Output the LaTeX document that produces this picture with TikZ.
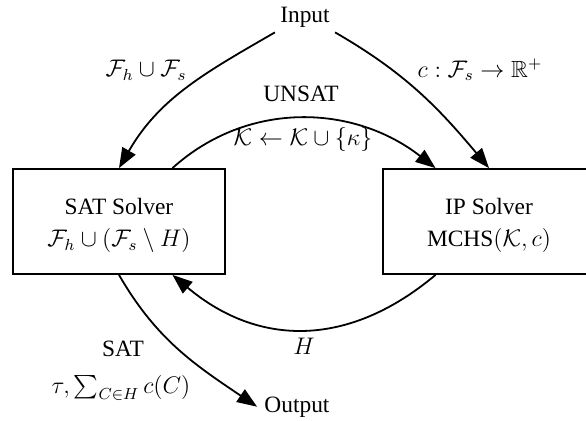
\documentclass[tikz,border=0pt]{standalone}
\usepackage{amssymb}
\usepackage{fontspec}
\setmainfont{Liberation Serif}
\usetikzlibrary{arrows.meta,calc}
\begin{document}
\begin{tikzpicture}[x=0.5pt,y=0.5pt,
  font=\fontsize{11.7}{14}\selectfont,
  txt/.style={inner sep=2.5pt},
  box/.style={draw,line width=0.9pt,minimum width=106pt,minimum height=52.5pt,align=center,inner sep=2pt},
  arr/.style={line width=0.9pt,-{Triangle[length=10pt,width=7.5pt]}}]
\useasboundingbox (0,0) rectangle (586,420);
\clip (0,0) rectangle (586,420);
\node[txt,anchor=base] (input) at (305,398) {Input};
\node[box] (sat) at (119,198.5) {\rule{0pt}{12pt}SAT Solver\\[2pt] $\mathcal{F}_h\cup(\mathcal{F}_s\setminus H)$};
\node[box] (ip) at (489,198.5) {\rule{0pt}{12pt}IP Solver\\[2pt] MCHS$(\mathcal{K},c)$};
\node[txt,anchor=base,inner xsep=3.5pt] (output) at (297,8) {Output};
\node[txt] (lfh) at (146,350) {$\mathcal{F}_h\cup\mathcal{F}_s$};
\node[txt] (lc) at (480,350) {$c:\mathcal{F}_s\rightarrow\mathbb{R}^+$};
\node[txt] (lunsat) at (301,326) {UNSAT};
\node[txt] (lk) at (303,281) {$\mathcal{K}\leftarrow\mathcal{K}\cup\{\kappa\}$};
\node[txt] (lh) at (304,74) {$H$};
\node[txt] (lsat) at (123,71) {SAT};
\node[txt] (ltau) at (121,32) {$\tau,\sum_{C\in H}c(C)$};
\draw[arr] (input.south west) to[out=210,in=60] (sat.north);
\draw[arr] (input.south east) to[out=-30,in=130] (ip.north);
\draw[arr] ($(sat.north)!0.5!(sat.north east)$) to[out=42,in=142] ($(ip.north west)!0.5!(ip.north)$);
\draw[arr] ($(ip.south west)!0.5!(ip.south)$) to[out=-140,in=-40,looseness=1.1] ($(sat.south)!0.5!(sat.south east)$);
\draw[arr] (sat.south) to[out=-60,in=146] (output.west);
\end{tikzpicture}
\end{document}
